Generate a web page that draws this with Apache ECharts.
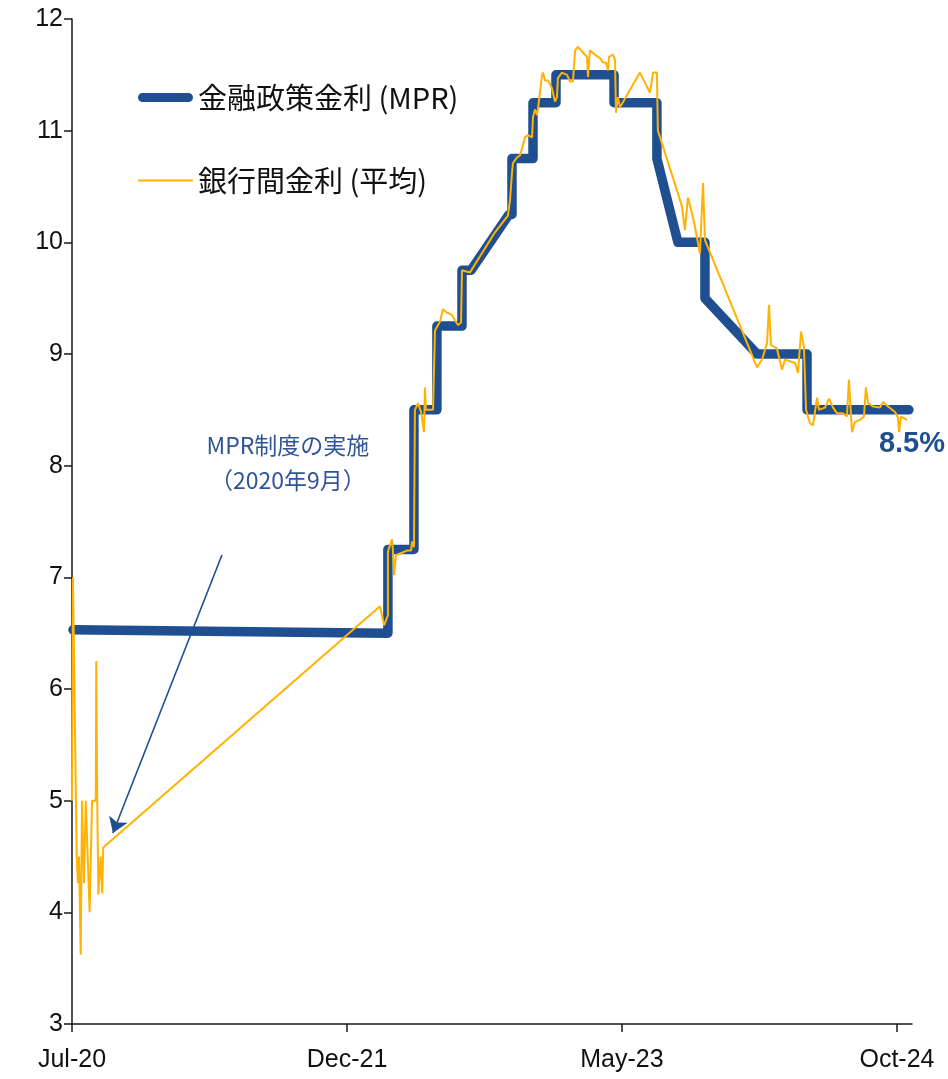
<!DOCTYPE html>
<html>
<head>
<meta charset="utf-8">
<script src="https://cdn.jsdelivr.net/npm/echarts@6/dist/echarts.min.js"></script>
<style>
  html, body { margin: 0; padding: 0; background: #fff; }
  #chart { width: 948px; height: 1079px; }
</style>
</head>
<body>
<div id="chart"></div>
<script>
// x values are months counted from July 2020
const tickMonths = [0, 17, 34, 51];
const tickLabels = ['Jul-20', 'Dec-21', 'May-23', 'Oct-24'];

// Monetary policy rate (MPR), %
const mprMonths = [0.06, 19.53, 19.53, 21.14, 21.14, 22.56, 22.56, 24.11, 24.11, 24.67,
  27.02, 27.20, 27.20, 28.50, 28.50, 29.92, 29.92, 33.51, 33.51, 36.16,
  36.16, 37.46, 39.13, 39.13, 42.35, 45.44, 45.44, 51.74];
const mprRates = [6.53, 6.50, 7.25, 7.25, 8.5, 8.5, 9.25, 9.25, 9.75, 9.75,
  10.25, 10.25, 10.75, 10.75, 11.25, 11.25, 11.5, 11.5, 11.25, 11.25,
  10.75, 10.0, 10.0, 9.5, 9.0, 9.0, 8.5, 8.5];

// Interbank rate (average), %
const ibMonths = [0.0, 0.06, 0.29, 0.37, 0.43, 0.54, 0.62, 0.74, 0.85, 1.09,
  1.24, 1.47, 1.50, 1.56, 1.63, 1.77, 1.87, 1.93,
  19.04, 19.16, 19.29, 19.53, 19.53, 19.78, 19.84, 19.91, 20.03, 20.40, 20.71, 20.96,
  21.02, 21.14, 21.20, 21.39, 21.58, 21.70, 21.76, 21.82, 21.88, 22.32,
  22.44, 22.63, 22.75, 22.93, 23.18, 23.49, 23.68, 23.86, 24.05, 24.11,
  24.60, 26.15, 26.95, 27.08, 27.20, 27.26, 27.51, 27.70, 27.88, 28.00,
  28.19, 28.44, 28.50, 28.62, 28.75, 28.81, 28.93, 29.06, 29.12, 29.24,
  29.43, 29.67, 29.86, 29.98, 30.04, 30.29, 30.60, 30.79, 30.97, 31.10,
  31.28, 31.59, 31.84, 31.90, 32.02, 32.33, 32.64, 32.83, 33.01, 33.14,
  33.20, 33.45, 33.57, 33.63, 33.75, 33.88, 35.11, 35.42, 35.73, 35.92,
  36.16, 36.22, 37.46, 37.71, 37.89, 38.08, 38.33, 38.51, 38.82, 39.01,
  39.13, 42.35, 42.66, 42.97, 43.09, 43.21, 43.58, 43.89, 44.08, 44.70,
  44.88, 45.07, 45.25, 45.38, 45.62, 45.81, 46.06, 46.18, 46.55, 46.80,
  47.05, 47.29, 47.66, 47.91, 48.03, 48.22, 48.40, 48.71, 48.96, 49.08,
  49.21, 49.52, 49.95, 50.14, 50.45, 50.88, 51.06, 51.13, 51.25, 51.62];
const ibRates = [5.0, 7.0, 4.5, 4.26, 4.5, 3.62, 5.0, 4.26, 5.0, 4.0,
  5.0, 5.0, 6.25, 5.0, 4.16, 4.5, 4.17, 4.58,
  6.74, 6.66, 6.57, 6.66, 7.23, 7.34, 7.24, 7.02, 7.20, 7.22, 7.24, 7.24,
  7.32, 7.27, 8.50, 8.56, 8.48, 8.48, 8.30, 8.70, 8.50, 8.50,
  9.21, 9.26, 9.29, 9.40, 9.37, 9.35, 9.30, 9.26, 9.28, 9.75,
  9.73, 10.09, 10.24, 10.38, 10.62, 10.71, 10.76, 10.78, 10.87, 10.94,
  10.96, 10.94, 11.12, 11.19, 11.14, 11.20, 11.19, 11.50, 11.52, 11.45,
  11.45, 11.38, 11.26, 11.30, 11.47, 11.52, 11.50, 11.44, 11.44, 11.72,
  11.75, 11.70, 11.66, 11.48, 11.72, 11.68, 11.65, 11.61, 11.61, 11.54,
  11.66, 11.68, 11.63, 11.16, 11.30, 11.21, 11.52, 11.43, 11.34, 11.52,
  11.52, 11.00, 10.44, 10.32, 10.11, 10.40, 10.26, 10.14, 9.90, 10.53,
  10.02, 8.88, 8.95, 9.10, 9.44, 9.08, 9.05, 8.86, 8.95, 8.92,
  8.83, 9.20, 9.06, 8.50, 8.38, 8.36, 8.61, 8.50, 8.52, 8.60,
  8.52, 8.47, 8.47, 8.44, 8.77, 8.30, 8.39, 8.41, 8.44, 8.70,
  8.56, 8.53, 8.52, 8.57, 8.53, 8.48, 8.43, 8.30, 8.44, 8.41];

// Annotation for the start of the MPR framework
const noteText = 'MPR制度の実施\n（2020年9月）';
const noteAt = [13.35, 8.03];
const arrowFrom = [9.27, 7.2];
const arrowTo = [2.53, 4.71];

const BLUE = '#1F4F91';
const GOLD = '#FFB300';
const AXIS = '#1a1a1a';
const CJK = '"Noto Sans CJK JP", "Noto Sans", sans-serif';
const LATIN = '"Liberation Sans", Arial, sans-serif';

// Legend swatches (55 x 14 box): thick rounded bar and thin rule
const ICON_THICK = 'path://M0,0h0.01v0.01h-0.01z M4.5,2.5h46a4.5,4.5 0 0 1 0,9h-46a4.5,4.5 0 0 1 0,-9z M0,13.99h0.01v0.01h-0.01z';
const ICON_THIN = 'path://M0,0h0.01v0.01h-0.01z M0,6h55v2h-55z M0,13.99h0.01v0.01h-0.01z';

const zip = (xs, ys) => xs.map((x, i) => [x, ys[i]]);
const mprData = zip(mprMonths, mprRates);
const ibData = zip(ibMonths, ibRates);
const lastMpr = mprData[mprData.length - 1];

const chart = echarts.init(document.getElementById('chart'), null, { renderer: 'canvas' });

chart.setOption({
  animation: false,
  backgroundColor: '#ffffff',
  grid: { left: 72, right: 36, top: 19, bottom: 55, containLabel: false },
  legend: {
    orient: 'vertical',
    left: 138,
    top: 80,
    padding: 0,
    itemWidth: 55,
    itemHeight: 14,
    itemGap: 48,
    selectedMode: false,
    itemStyle: { borderWidth: 0 },
    data: [
      { name: '金融政策金利 (MPR)', icon: ICON_THICK, itemStyle: { color: BLUE } },
      { name: '銀行間金利 (平均)', icon: ICON_THIN, itemStyle: { color: GOLD } }
    ],
    textStyle: { fontFamily: CJK, fontSize: 29, color: '#111', lineHeight: 35 }
  },
  xAxis: {
    type: 'value',
    min: 0,
    max: 51.93,
    splitLine: { show: false },
    axisLine: { lineStyle: { color: AXIS, width: 1.5 } },
    axisTick: { show: true, customValues: tickMonths, length: 8, lineStyle: { color: AXIS, width: 1.5 } },
    axisLabel: {
      customValues: tickMonths,
      formatter: v => tickLabels[tickMonths.indexOf(Math.round(v))] || '',
      fontFamily: LATIN, fontSize: 25, color: '#111', margin: 24
    }
  },
  yAxis: {
    type: 'value',
    min: 3,
    max: 12,
    interval: 1,
    splitLine: { show: false },
    axisLine: { show: true, lineStyle: { color: AXIS, width: 1.5 } },
    axisTick: { show: true, length: 8, lineStyle: { color: AXIS, width: 1.5 } },
    axisLabel: { fontFamily: LATIN, fontSize: 25, color: '#111', margin: 9 }
  },
  series: [
    {
      name: '金融政策金利 (MPR)',
      type: 'line',
      data: mprData,
      showSymbol: false,
      symbol: 'none',
      color: BLUE,
      lineStyle: { color: BLUE, width: 9.5, cap: 'round', join: 'round' },
      silent: true,
      z: 2,
      markPoint: {
        silent: true,
        symbol: 'circle',
        symbolSize: 0,
        data: [{
          coord: lastMpr,
          label: {
            show: true,
            formatter: lastMpr[1] + '%',
            position: 'inside',
            offset: [3, 34],
            fontFamily: LATIN,
            fontWeight: 'bold',
            fontSize: 29,
            color: BLUE
          }
        }]
      }
    },
    {
      name: '銀行間金利 (平均)',
      type: 'line',
      data: ibData,
      showSymbol: false,
      symbol: 'none',
      color: GOLD,
      lineStyle: { color: GOLD, width: 2 },
      silent: true,
      z: 3,
      markLine: {
        silent: true,
        symbol: ['none', 'arrow'],
        symbolSize: 15,
        label: { show: false },
        lineStyle: { color: BLUE, width: 1.6, type: 'solid' },
        data: [[{ coord: arrowFrom }, { coord: arrowTo }]]
      },
      markPoint: {
        silent: true,
        symbol: 'circle',
        symbolSize: 0,
        data: [{
          coord: noteAt,
          label: {
            show: true,
            formatter: noteText,
            position: 'inside',
            fontFamily: CJK,
            fontSize: 23,
            lineHeight: 35,
            align: 'center',
            color: '#2F5597'
          }
        }]
      }
    }
  ]
});
</script>
</body>
</html>
